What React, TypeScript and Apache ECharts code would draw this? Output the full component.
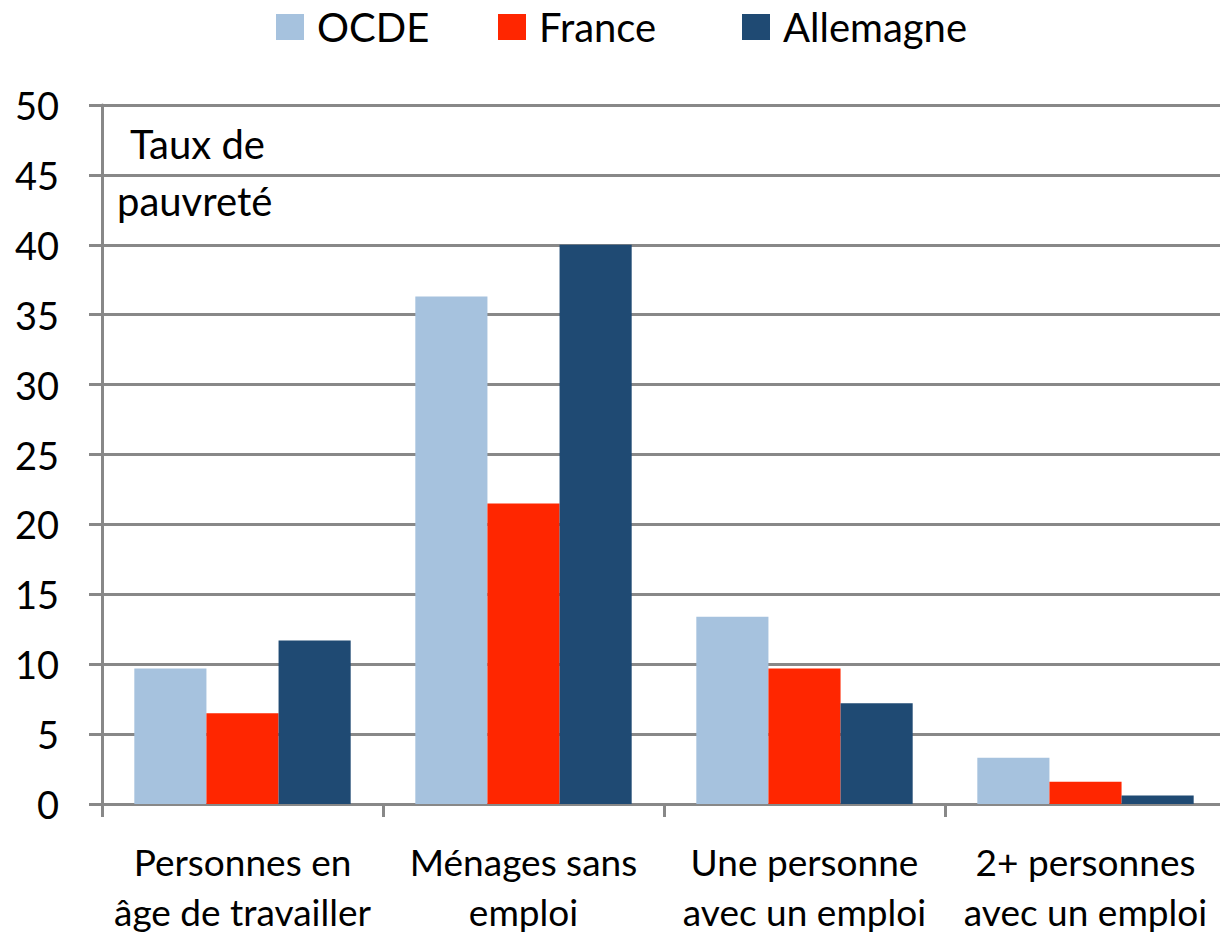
import React, { useEffect, useRef } from "react";
import * as echarts from "echarts";

const categories = [
  "Personnes en\nâge de travailler",
  "Ménages sans\nemploi",
  "Une personne\navec un emploi",
  "2+ personnes\navec un emploi",
];
const ocde = [9.7, 36.3, 13.4, 3.3];
const france = [6.5, 21.5, 9.7, 1.6];
const allemagne = [11.7, 40.0, 7.2, 0.6];
const seriesNames = ["OCDE", "France", "Allemagne"];
const colors = ["#A6C2DE", "#FF2600", "#1F4A73"];
const yTitle = ["Taux de", "pauvreté"];

const FONT = "Lato";
const legendLefts = [276, 498, 742];

export default function App() {
  const ref = useRef<HTMLDivElement>(null);
  useEffect(() => {
    if (!ref.current) return;
    const chart = echarts.init(ref.current, undefined, { renderer: "svg" });
    const data = [ocde, france, allemagne];
    chart.setOption({
      animation: false,
      backgroundColor: "#ffffff",
      textStyle: { fontFamily: FONT },
      legend: seriesNames.map((name, i) => ({
        top: 7,
        left: legendLefts[i],
        padding: 0,
        itemWidth: 28,
        itemHeight: 26,
        icon: "rect",
        textStyle: { fontSize: 40, color: "#000", fontFamily: FONT, padding: [0, 0, 0, 8] },
        data: [name],
      })),
      grid: { left: 102, width: 1124, top: 105, bottom: 136, outerBoundsMode: "none", containLabel: false },
      xAxis: {
        type: "category",
        data: categories,
        axisLine: { show: true, lineStyle: { color: "#888888", width: 3 } },
        axisTick: { show: true, length: 13, lineStyle: { color: "#888888", width: 3 } },
        axisLabel: {
          fontSize: 37,
          lineHeight: 50,
          color: "#000",
          margin: 32,
          fontFamily: FONT,
          interval: 0,
        },
      },
      yAxis: {
        type: "value",
        min: 0,
        max: 50,
        interval: 5,
        axisLine: { show: true, lineStyle: { color: "#888888", width: 3 } },
        axisTick: { show: true, length: 13, lineStyle: { color: "#888888", width: 3 } },
        splitLine: { show: true, lineStyle: { color: "#888888", width: 3 } },
        axisLabel: { fontSize: 38, color: "#000", margin: 43, fontFamily: FONT },
      },
      graphic: [
        {
          type: "text",
          left: 130,
          top: 124,
          style: { text: yTitle[0], fontSize: 40, fill: "#000", fontFamily: FONT },
        },
        {
          type: "text",
          left: 117,
          top: 181,
          style: { text: yTitle[1], fontSize: 40, fill: "#000", fontFamily: FONT },
        },
      ],
      series: seriesNames.map((name, i) => ({
        name,
        type: "bar",
        data: data[i],
        barGap: "0%",
        barCategoryGap: "23%",
        itemStyle: { color: colors[i] },
      })),
    });
    return () => chart.dispose();
  }, []);
  return (
    <div
      ref={ref}
      style={{ position: "fixed", left: 0, top: 0, width: 1220, height: 940 }}
    />
  );
}
